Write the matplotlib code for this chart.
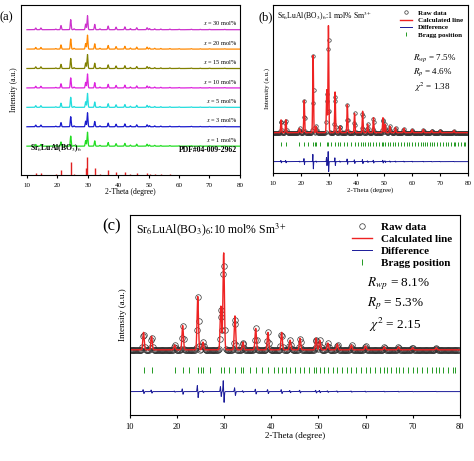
import numpy as np
import matplotlib.pyplot as plt
plt.rcParams['font.family'] = ['Liberation Serif', 'DejaVu Serif']
plt.rcParams['mathtext.fontset'] = 'stix'

# peak positions (2-theta) and relative intensities
peak_pos = [12.9, 14.6, 19.5, 21.2, 24.4, 25.5, 29.3, 29.9, 32.3, 34.0, 36.7, 39.3, 42.2, 44.0, 46.1, 49.5, 50.3, 52.0, 54.0, 57.0, 60.0, 64.0, 67.0, 70.0, 75.0]
peak_int = [0.12, 0.12, 0.04, 0.30, 0.72, 0.06, 0.40, 1.00, 0.38, 0.06, 0.26, 0.18, 0.20, 0.08, 0.14, 0.14, 0.08, 0.06, 0.05, 0.04, 0.03, 0.03, 0.02, 0.02, 0.02]
peak_int_c = [0.18, 0.14, 0.05, 0.25, 0.55, 0.08, 0.45, 1.00, 0.35, 0.08, 0.22, 0.18, 0.18, 0.10, 0.12, 0.12, 0.10, 0.07, 0.06, 0.05, 0.04, 0.03, 0.03, 0.02, 0.02]
conc_labels = ['$x$ = 1 mol%', '$x$ = 3 mol%', '$x$ = 5 mol%', '$x$ = 10 mol%', '$x$ = 15 mol%', '$x$ = 20 mol%', '$x$ = 30 mol%']
conc_colors = ['#22dd22', '#1a1acc', '#22dddd', '#dd22dd', '#808000', '#ff8800', '#cc33cc']
bragg = [12.9, 14.6, 19.5, 21.2, 22.5, 24.4, 25.0, 25.5, 27.0, 29.3, 29.9, 31.0, 32.3, 33.5, 34.0, 35.5, 36.7, 38.0, 39.3, 40.5, 41.5, 42.2, 43.2, 44.0, 45.0, 46.1, 47.0, 48.0, 49.0, 49.5, 50.3, 51.2, 52.0, 53.0, 54.0, 55.0, 56.0, 57.0, 58.0, 59.0, 60.0, 61.0, 62.0, 63.0, 64.0, 64.5, 65.5, 66.5, 67.0, 68.0, 69.0, 70.0, 71.0, 72.0, 73.0, 74.0, 75.0, 75.5, 76.5, 77.5, 78.5, 79.0]

x = np.linspace(10, 80, 3000)
def profile(ints, w=0.15):
    y = np.zeros_like(x)
    for p, i in zip(peak_pos, ints):
        y += i * np.exp(-0.5 * ((x - p) / w) ** 2)
    return y

fig = plt.figure(figsize=(4.74, 4.61), dpi=100)

# (a)
ax = fig.add_axes([0.044, 0.62, 0.462, 0.369])
ax.vlines(peak_pos, 0, np.array(peak_int) * 0.9, color='#e02020', lw=1)
base = profile(peak_int)
for k, (lab, c) in enumerate(zip(conc_labels, conc_colors)):
    off = 1.45 + k * 0.97
    ax.plot(x, base * 0.7 + off, color=c, lw=0.9)
    ax.text(79, off + 0.12, lab, fontsize=4.5, ha='right', va='bottom')
ax.text(11, 1.05, 'Sr$_6$LuAl(BO$_3$)$_6$', fontsize=5.5, fontweight='bold', va='bottom')
ax.text(79, 1.05, 'PDF#04-009-2962', fontsize=5.5, fontweight='bold', ha='right', va='bottom')
ax.set_xlim(8, 80); ax.set_ylim(0, 8.5)
ax.set_yticks([])
ax.set_xticks(range(10, 81, 10))
ax.tick_params(labelsize=5, length=2)
ax.set_xlabel('2-Theta (degree)', fontsize=5.5, labelpad=0)
ax.set_ylabel('Intensity (a.u.)', fontsize=5.5, labelpad=2)
fig.text(0.0, 0.955, '(a)', fontsize=9)

def rietveld(rect, ints, title, stats, fs, ms, label_fs, tick_fs, diffscale, ylim, by, dy, statpos):
    a = fig.add_axes(rect)
    calc = profile(ints)
    xs = x[::8]; ys = calc[::8]
    a.plot(xs, ys, 'o', mfc='none', mec='#333333', ms=ms, mew=0.5, label='Raw data')
    a.plot(x, calc, color='#ee2222', lw=1, label='Calculated line')
    d = np.zeros_like(x)
    for p, i in zip(peak_pos, ints):
        d += i * diffscale * (np.exp(-0.5 * ((x - p + 0.08) / 0.07) ** 2) - np.exp(-0.5 * ((x - p - 0.08) / 0.07) ** 2))
    a.plot(x, d + dy, color='#1a1a99', lw=0.7, label='Difference')
    a.plot(bragg, np.full(len(bragg), by), '|', color='#229922', ms=ms * 1.2, mew=0.7, label='Bragg position')
    a.set_xlim(10, 80); a.set_ylim(*ylim)
    a.set_yticks([]); a.set_xticks(range(10, 81, 10))
    a.tick_params(labelsize=tick_fs, length=2)
    a.set_xlabel('2-Theta (degree)', fontsize=label_fs, labelpad=1)
    a.set_ylabel('Intensity (a.u.)', fontsize=label_fs, labelpad=2)
    a.legend(loc='upper right', frameon=False, handlelength=1.8, borderpad=0.2, labelspacing=0.2,
             prop={'weight': 'bold', 'size': fs})
    a.text(0.02, 0.97, title, transform=a.transAxes, fontsize=fs + 0.5, va='top')
    a.text(statpos[0], statpos[1], stats, transform=a.transAxes, fontsize=fs + 1.5, va='top', linespacing=1.3)
    return a

rietveld([0.576, 0.625, 0.411, 0.364], peak_int, 'Sr$_6$LuAl(BO$_3$)$_6$:1 mol% Sm$^{3+}$',
         '$R_{wp}$ = 7.5%\n$R_{p}$ = 4.6%\n $\\chi^2$ = 1.38', 5, 2.5, 5, 5, 0.1,
         (-0.375, 1.19), -0.11, -0.27, (0.72, 0.72))
fig.text(0.545, 0.955, '(b)', fontsize=9)

rietveld([0.274, 0.1, 0.696, 0.434], peak_int_c, 'Sr$_6$LuAl(BO$_3$)$_6$:10 mol% Sm$^{3+}$',
         '$R_{wp}$ = 8.1%\n$R_{p}$ = 5.3%\n $\\chi^2$ = 2.15', 8, 4, 6.5, 6, 0.12,
         (-0.67, 1.39), -0.21, -0.43, (0.72, 0.70))
fig.text(0.215, 0.5, '(c)', fontsize=12)

fig.savefig('out.png', dpi=100)
